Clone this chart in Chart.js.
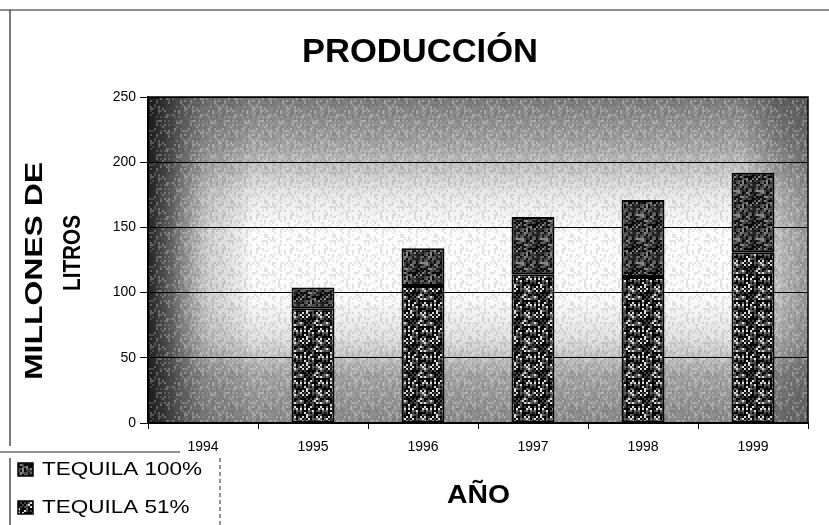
<!DOCTYPE html>
<html>
<head>
<meta charset="utf-8">
<title>Producción</title>
<script src="https://cdn.jsdelivr.net/npm/chart.js@4.4.1/dist/chart.umd.min.js"></script>
<style>
  html, body { margin: 0; padding: 0; background: #fff; }
  #caja { width: 829px; height: 525px; }
</style>
</head>
<body>
<div id="caja"><canvas id="produccion" width="829" height="525"></canvas></div>
<script>
// Datos de producción (millones de litros)
var anios = ["1994", "1995", "1996", "1997", "1998", "1999"];
var tequila51 = [null, 88, 105, 114, 112, 131];
var tequila100 = [null, 16, 29, 44, 59, 61];
var marcasY = [0, 50, 100, 150, 200, 250];
var etiquetas = ["TEQUILA 51%", "TEQUILA 100%"];

var fuente = "Arial, 'Liberation Sans', sans-serif";

// Textura granulada (bloques de 2px, patrón fijo)
function textura(lado, colores, semilla) {
    var c = document.createElement("canvas");
    c.width = lado; c.height = lado;
    var g = c.getContext("2d");
    for (var y = 0; y < lado; y += 2) {
        for (var x = 0; x < lado; x += 2) {
            var k = ((x * 37 + y * 91 + semilla) ^ (x * y * 13 + semilla * 7)) % colores.length;
            g.fillStyle = colores[(k + colores.length) % colores.length];
            g.fillRect(x, y, 2, 2);
        }
    }
    return g.createPattern(c, "repeat");
}

var ctx = document.getElementById("produccion").getContext("2d");
var pat51 = textura(26, ["#000", "#fff", "#444", "#777", "#111", "#999", "#ddd", "#222", "#666", "#bbb", "#000", "#333"], 5);
var pat100 = textura(24, ["#111", "#333", "#000", "#666", "#222", "#444", "#888", "#1a1a1a", "#555"], 11);
var grano = textura(34, ["rgba(0,0,0,0)", "rgba(0,0,0,0.1)", "rgba(255,255,255,0.25)", "rgba(0,0,0,0)", "rgba(0,0,0,0.05)", "rgba(255,255,255,0.15)", "rgba(0,0,0,0)"], 3);

// Texto escalado horizontalmente a un ancho dado
function texto(g, str, x, y, font, ancho) {
    g.font = font;
    var w = g.measureText(str).width;
    g.save();
    g.translate(x, y);
    g.scale(ancho / w, 1);
    g.fillText(str, 0, 0);
    g.restore();
}

// Fondo degradado del área de trazado
var fondo = {
    id: "fondo",
    beforeDraw: function(chart) {
        var a = chart.chartArea, g = chart.ctx;
        var w = a.right - a.left, h = a.bottom - a.top;
        g.save();
        var gv = g.createLinearGradient(0, a.top, 0, a.bottom);
        gv.addColorStop(0, "#7c7c7c");
        gv.addColorStop(0.15, "#a6a6a6");
        gv.addColorStop(0.3, "#e8e8e8");
        gv.addColorStop(0.42, "#fdfdfd");
        gv.addColorStop(0.62, "#fbfbfb");
        gv.addColorStop(0.74, "#e0e0e0");
        gv.addColorStop(0.85, "#a6a6a6");
        gv.addColorStop(1, "#8a8a8a");
        g.fillStyle = gv;
        g.fillRect(a.left, a.top, w, h);
        var gh = g.createLinearGradient(a.left, 0, a.right, 0);
        gh.addColorStop(0, "rgba(15,15,15,0.92)");
        gh.addColorStop(0.035, "rgba(35,35,35,0.7)");
        gh.addColorStop(0.09, "rgba(70,70,70,0.25)");
        gh.addColorStop(0.16, "rgba(0,0,0,0)");
        gh.addColorStop(0.9, "rgba(0,0,0,0)");
        gh.addColorStop(1, "rgba(50,50,50,0.5)");
        g.fillStyle = gh;
        g.fillRect(a.left, a.top, w, h);
        g.fillStyle = grano;
        g.fillRect(a.left, a.top, w, h);
        g.restore();
    }
};

// Título, rótulos de ejes, leyenda y marcos
var adornos = {
    id: "adornos",
    afterDraw: function(chart) {
        var a = chart.chartArea, g = chart.ctx;
        g.save();
        g.strokeStyle = "#000";
        g.lineWidth = 1.5;
        g.strokeRect(a.left, a.top, a.right - a.left, a.bottom - a.top);

        g.fillStyle = "#000";
        g.textAlign = "left";
        g.textBaseline = "alphabetic";
        texto(g, "PRODUCCIÓN", 302, 62, "bold 33px " + fuente, 236);
        texto(g, "AÑO", 447, 503, "bold 26px " + fuente, 63);

        // rótulo vertical
        g.save();
        g.translate(42, 380);
        g.rotate(-Math.PI / 2);
        texto(g, "MILLONES DE", 0, 0, "bold 24px " + fuente, 218);
        g.restore();
        g.save();
        g.translate(80, 291);
        g.rotate(-Math.PI / 2);
        texto(g, "LITROS", 0, 0, "bold 24px " + fuente, 76);
        g.restore();

        // marco exterior
        g.strokeStyle = "#222";
        g.lineWidth = 1.2;
        g.beginPath();
        g.moveTo(0, 10); g.lineTo(829, 10);
        g.moveTo(10, 10); g.lineTo(10, 446);
        g.moveTo(10, 458); g.lineTo(10, 525);
        g.moveTo(0, 452); g.lineTo(180, 452);
        g.stroke();
        g.setLineDash([4, 3]);
        g.lineWidth = 1;
        g.beginPath();
        g.moveTo(220, 458); g.lineTo(220, 525);
        g.stroke();
        g.setLineDash([]);

        // leyenda
        var filas = [
            { txt: chart.data.datasets[1].label, fill: pat100, y: 470 },
            { txt: chart.data.datasets[0].label, fill: pat51, y: 508 }
        ];
        filas.forEach(function(f) {
            g.fillStyle = f.fill;
            g.fillRect(18, f.y - 7, 15, 13);
            g.strokeStyle = "#000";
            g.lineWidth = 1.5;
            g.strokeRect(18, f.y - 7, 15, 13);
            g.fillStyle = "#000";
            g.textBaseline = "middle";
            g.font = "18px " + fuente;
            g.save();
            g.translate(42, f.y);
            g.scale(1.25, 1);
            g.fillText(f.txt, 0, 0);
            g.restore();
        });
        g.restore();
    }
};

new Chart(ctx, {
    type: "bar",
    data: {
        labels: anios,
        datasets: [
            {
                label: etiquetas[0],
                data: tequila51,
                backgroundColor: pat51,
                borderColor: "#000",
                borderWidth: 2,
                borderSkipped: false
            },
            {
                label: etiquetas[1],
                data: tequila100,
                backgroundColor: pat100,
                borderColor: "#000",
                borderWidth: 2,
                borderSkipped: false
            }
        ]
    },
    options: {
        responsive: false,
        animation: false,
        categoryPercentage: 1,
        barPercentage: 0.39,
        layout: { padding: { top: 97, right: 21, bottom: 0, left: 0 } },
        plugins: {
            legend: { display: false },
            title: { display: false },
            tooltip: { enabled: false }
        },
        scales: {
            x: {
                stacked: true,
                grid: { drawOnChartArea: false, drawTicks: true, tickLength: 6, color: "#000", offset: true },
                border: { color: "#000", width: 2 },
                ticks: { color: "#000", font: { family: fuente, size: 14 }, padding: 10, maxRotation: 0 },
                afterFit: function(s) { s.height = 102; }
            },
            y: {
                stacked: true,
                min: 0,
                max: 250,
                afterBuildTicks: function(s) {
                    s.ticks = marcasY.map(function(v) { return { value: v }; });
                },
                grid: { color: "#000", lineWidth: 1, tickLength: 8 },
                border: { color: "#000", width: 2 },
                ticks: { color: "#000", font: { family: fuente, size: 14 }, padding: 4 },
                afterFit: function(s) { s.width = 148; }
            }
        }
    },
    plugins: [fondo, adornos]
});
</script>
</body>
</html>
